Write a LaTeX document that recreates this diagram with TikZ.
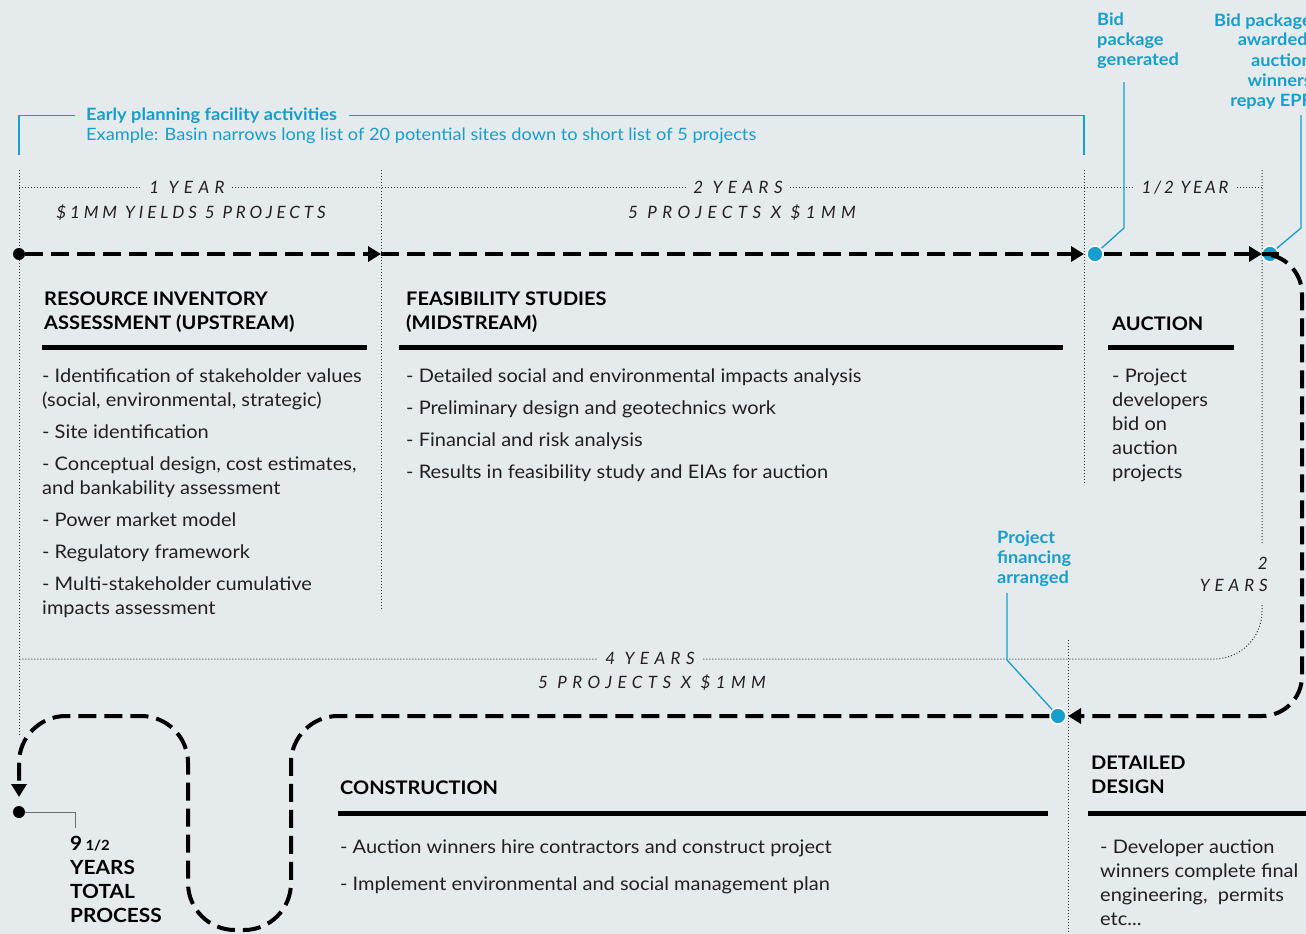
\documentclass[tikz,border=0pt]{standalone}
\usepackage{fontspec}
\setmainfont[FakeStretch=1.07]{Lato}
\newfontfamily\spA[LetterSpace=32]{Lato}
\newfontfamily\spB[LetterSpace=23]{Lato}
\newfontfamily\spC[LetterSpace=16]{Lato}
\newfontfamily\spD[LetterSpace=29]{Lato}
\usetikzlibrary{arrows.meta}
\definecolor{bgc}{RGB}{229,234,237}
\definecolor{cyanc}{RGB}{22,158,204}
\definecolor{textc}{RGB}{35,31,32}
\definecolor{dotc}{RGB}{55,55,55}
\definecolor{grayln}{RGB}{110,110,110}
\tikzset{
  body/.style={font=\fontsize{18.7}{24}\selectfont, text=textc, inner sep=0pt, align=left, anchor=base west},
  head/.style={font=\fontsize{18.7}{24}\selectfont\bfseries, text=black, inner sep=0pt, align=left, anchor=base west},
  cyanlab/.style={font=\fontsize{17}{20}\selectfont\bfseries, text=cyanc, inner sep=0pt, align=left, anchor=base west},
  cyantxt/.style={font=\fontsize{17}{20}\selectfont, text=cyanc, inner sep=0pt, align=left, anchor=base west},
  spaced/.style={text=textc, fill=bgc, inner xsep=7pt, inner ysep=1pt, anchor=base},
  dots/.style={draw=dotc, line width=1pt, dash pattern=on 1pt off 2pt},
  rulel/.style={line width=5pt, draw=black},
  flow/.style={line width=4pt, draw=black, dash pattern=on 18pt off 8pt, -{Triangle[length=13pt,width=15pt]}},
  cyanline/.style={draw=cyanc, line width=1.3pt},
  cdot/.style={circle, fill=cyanc, draw=white, line width=1.5pt, minimum size=16pt, inner sep=0pt},
  bdot/.style={circle, fill=black, minimum size=12pt, inner sep=0pt},
}
\newcommand{\spfont}[1]{\fontsize{17}{22}\selectfont#1\itshape}
\begin{document}
\begin{tikzpicture}[x=1pt,y=-1pt]
\useasboundingbox (0,0) rectangle (1306,934);
\fill[bgc] (0,0) rectangle (1306,934);
\clip (0,0) rectangle (1306,934);

% dotted guide lines
\draw[dots] (19,170) -- (19,735);
\draw[dots] (381,170) -- (381,610);
\draw[dots] (1084,170) -- (1084,485);
\draw[dots, rounded corners=48pt] (1262,170) -- (1262,659) -- (19,659);
\draw[dots] (19,187) -- (1262,187);
\draw[dots] (1068,640) -- (1068,934);

% duration labels
\node[spaced, font=\spfont\spA] (y1) at (187,193) {1 YEAR};
\node[spaced, fill=none, font=\spfont\spB] (y1b) at (191,218) {\$1MM YIELDS 5 PROJECTS};
\node[spaced, font=\spfont\spA] (y2) at (738,193) {2 YEARS};
\node[spaced, fill=none, font=\spfont\spA] (y2b) at (742,218) {5 PROJECTS X \$1MM};
\node[spaced, font=\spfont\spC] (yh) at (1185,193) {1/2 YEAR};
\node[spaced, font=\spfont\spD, align=right, anchor=base east, inner xsep=0pt, inner ysep=12pt] (y2r) at (1268,591) {2\\YEARS};
\node[spaced, font=\spfont\spA] (y4) at (650,664) {4 YEARS};
\node[spaced, fill=none, font=\spfont\spA] (y4b) at (652,688) {5 PROJECTS X \$1MM};

% early planning bracket
\node[cyanlab] (early) at (86,120) {Early planning facility activities};
\node[cyantxt] (example) at (86,140) {Example: Basin narrows long list of 20 potential sites down to short list of 5 projects};
\coordinate (brL) at (19,155);
\coordinate (brR) at (1084,155);
\draw[cyanline] (brL) |- ([xshift=-11pt]early.west);
\draw[cyanline] ([xshift=12pt]early.east) -| (brR);

% cyan milestone labels
\node[cyanlab] (bidgen) at (1097,66) {Bid\\package\\generated};
\node[cyanlab, align=right, anchor=base east] (bidaw) at (1312,106) {Bid package\\awarded,\\auction\\winners\\repay EPF};
\node[cyanlab] (projfin) at (997,583) {Project\\financing\\arranged};

% main flow
\node[bdot] (start) at (19,254) {};
\node[cdot] (dotA) at (1095,254) {};
\node[cdot] (dotB) at (1270,254) {};
\node[cdot] (dotC) at (1058,716) {};
\node[bdot] (endd) at (19,812) {};
\coordinate (m1) at (381,254);
\coordinate (m2) at (1084,254);
\coordinate (m3) at (1262,254);
\coordinate (m4) at (1068,716);
\coordinate (m5) at (19,797);

\draw[flow] (start) -- (m1);
\draw[flow] (m1) -- (m2);
\draw[flow] (dotA) -- (m3);
\draw[flow, rounded corners=40pt] (dotB) -- (1302,254) -- (1302,716) -- (m4);
\draw[flow, rounded corners=47pt] (dotC) -- (291,716) -- (291,930) -- (188,930) -- (188,716) -- (19,716) -- (m5);

% cyan leader lines
\draw[cyanline] (1124,82) -- (1124,228) -- (dotA);
\draw[cyanline] (1301,115) -- (1301,228) -- (dotB);
\draw[cyanline] (1007,593) -- (1007,660) -- (dotC);
\draw[draw=grayln, line width=1pt] (endd) -- (75,812) -- (75,828);

% sections
\node[head] (resh) at (44,329) {RESOURCE INVENTORY\\ASSESSMENT (UPSTREAM)};
\draw[rulel] (42,347) -- (367,347);
\node[body] (resl) at (42,614) {- Identification of stakeholder values\\(social, environmental, strategic)\\[8pt]- Site identification\\[8pt]- Conceptual design, cost estimates,\\and bankability assessment\\[8pt]- Power market model\\[8pt]- Regulatory framework\\[8pt]- Multi-stakeholder cumulative\\impacts assessment};

\node[head] (feah) at (406,329) {FEASIBILITY STUDIES\\(MIDSTREAM)};
\draw[rulel] (399,347) -- (1063,347);
\node[body] (feal) at (406,478) {- Detailed social and environmental impacts analysis\\[8pt]- Preliminary design and geotechnics work\\[8pt]- Financial and risk analysis\\[8pt]- Results in feasibility study and EIAs for auction};

\node[head] (auch) at (1112,330) {AUCTION};
\draw[rulel] (1108,347) -- (1234,347);
\node[body] (aucl) at (1112,478) {- Project\\developers\\bid on\\auction\\projects};

\node[head] (conh) at (340,794) {CONSTRUCTION};
\draw[rulel] (338,813) -- (1048,813);
\node[body] (conl) at (340,890) {- Auction winners hire contractors and construct project\\[13pt]- Implement environmental and social management plan};

\node[head] (deth) at (1091,793) {DETAILED\\DESIGN};
\draw[rulel] (1088,813) -- (1306,813);
\node[body] (detl) at (1100,925) {- Developer auction\\winners complete final\\engineering,\ \ permits\\etc...};

\node[head, font=\fontsize{19.5}{24}\selectfont\bfseries] (total) at (70,922) {9\,{\fontsize{14}{14}\selectfont 1/2}\\YEARS\\TOTAL\\PROCESS};
\end{tikzpicture}
\end{document}
